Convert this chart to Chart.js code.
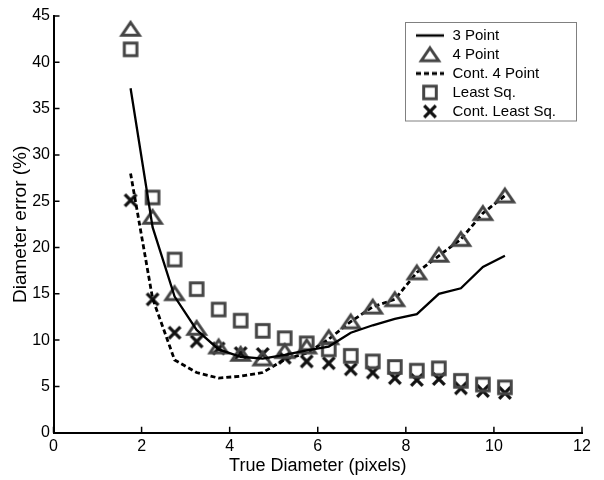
<!DOCTYPE html>
<html>
<head>
<meta charset="utf-8">
<script src="https://cdn.jsdelivr.net/npm/chart.js@4"></script>
<style>
html,body{margin:0;padding:0;background:#fff;}
#wrap{width:604px;height:480px;}
</style>
</head>
<body>
<div id="wrap"><canvas id="c" width="604" height="480"></canvas></div>
<script>
// ---- data ----
const diameters = [1.75, 2.25, 2.75, 3.25, 3.75, 4.25, 4.75, 5.25, 5.75, 6.25, 6.75, 7.25, 7.75, 8.25, 8.75, 9.25, 9.75, 10.25];
const threePoint = [37.2, 22.2, 14.7, 11.1, 9.0, 8.2, 8.0, 8.4, 8.9, 9.3, 10.8, 11.6, 12.3, 12.8, 15.0, 15.6, 17.9, 19.1];
const fourPoint = [43.6, 23.3, 15.05, 11.3, 9.3, 8.5, 8.0, 8.8, 9.3, 10.3, 12.0, 13.6, 14.4, 17.3, 19.2, 20.9, 23.7, 25.6];
const contFourPoint = [28.0, 14.5, 7.85, 6.5, 5.9, 6.1, 6.5, 7.9, 8.6, 10.1, 12.0, 13.6, 14.4, 17.3, 19.1, 20.9, 23.7, 25.6];
const leastSq = [41.4, 25.4, 18.7, 15.5, 13.3, 12.1, 11.0, 10.2, 9.65, 9.0, 8.3, 7.7, 7.1, 6.7, 6.95, 5.6, 5.2, 4.9];
const contLeastSq = [25.1, 14.4, 10.8, 9.85, 9.1, 8.6, 8.5, 8.1, 7.7, 7.5, 6.85, 6.5, 5.9, 5.7, 5.8, 4.8, 4.5, 4.3];
const seriesLabels = ['3 Point', '4 Point', 'Cont. 4 Point', 'Least Sq.', 'Cont. Least Sq.'];
const xTicks = [0, 2, 4, 6, 8, 10, 12];
const yTicks = [0, 5, 10, 15, 20, 25, 30, 35, 40, 45];

// ---- marker images ----
function mk(w, h, fn) {
  const c = document.createElement('canvas');
  c.width = w; c.height = h;
  const g = c.getContext('2d');
  fn(g, w / 2, h / 2);
  return c;
}
const GREY = '#454545';
const triImg = mk(26, 24, (g, cx, cy) => {
  g.strokeStyle = GREY; g.lineWidth = 3; g.lineJoin = 'miter';
  g.beginPath();
  g.moveTo(cx, cy - 6.5); g.lineTo(cx + 8.7, cy + 6.2); g.lineTo(cx - 8.7, cy + 6.2); g.closePath();
  g.stroke();
});
const sqImg = mk(20, 20, (g, cx, cy) => {
  g.strokeStyle = GREY; g.lineWidth = 3;
  g.strokeRect(cx - 6.3, cy - 6.3, 12.6, 12.6);
});
const xImg = mk(20, 20, (g, cx, cy) => {
  g.strokeStyle = '#111'; g.lineWidth = 3.3;
  g.beginPath();
  g.moveTo(cx - 5.8, cy - 5.8); g.lineTo(cx + 5.8, cy + 5.8);
  g.moveTo(cx + 5.8, cy - 5.8); g.lineTo(cx - 5.8, cy + 5.8);
  g.stroke();
});
const solidImg = mk(30, 6, (g, cx, cy) => {
  g.strokeStyle = '#000'; g.lineWidth = 2.5;
  g.beginPath(); g.moveTo(1, cy); g.lineTo(29, cy); g.stroke();
});
const dashImg = mk(30, 6, (g, cx, cy) => {
  g.strokeStyle = '#000'; g.lineWidth = 2.8; g.setLineDash([5, 3]);
  g.beginPath(); g.moveTo(1, cy); g.lineTo(29, cy); g.stroke();
});
const legendImgs = [solidImg, triImg, dashImg, sqImg, xImg];

function pts(arr) { return diameters.map((d, i) => ({x: d, y: arr[i]})); }

const tickMarks = {
  id: 'tickMarks',
  afterLayout(chart) {
    const lg = chart.legend;
    if (lg) {
      lg.left = 411; lg.top = 24;
      lg.right = 411 + 170; lg.bottom = 24 + 300;
    }
  },
  afterDraw(chart) {
    const ctx = chart.ctx, xs = chart.scales.x, ys = chart.scales.y;
    const a = chart.chartArea;
    ctx.save();
    ctx.strokeStyle = '#000'; ctx.lineWidth = 1.5;
    ctx.beginPath();
    xTicks.forEach(v => { const p = xs.getPixelForValue(v); ctx.moveTo(p, a.bottom); ctx.lineTo(p, a.bottom - 6); });
    yTicks.forEach(v => { const p = ys.getPixelForValue(v); ctx.moveTo(a.left, p); ctx.lineTo(a.left + 6, p); });
    ctx.stroke();
    // legend frame
    ctx.strokeStyle = '#808080'; ctx.lineWidth = 1;
    ctx.strokeRect(405.5, 22.5, 171, 98.5);
    ctx.restore();
  }
};

const FONT = "'Liberation Sans', Arial, Helvetica, sans-serif";

new Chart(document.getElementById('c'), {
  type: 'scatter',
  data: {
    datasets: [
      {label: seriesLabels[0], data: pts(threePoint), showLine: true, borderColor: '#000', borderWidth: 2.3, pointRadius: 0, tension: 0, fill: false},
      {label: seriesLabels[1], data: pts(fourPoint), showLine: false, pointStyle: triImg, pointRadius: 8},
      {label: seriesLabels[2], data: pts(contFourPoint), showLine: true, borderColor: '#000', borderWidth: 2.8, borderDash: [5, 3], pointRadius: 0, tension: 0, fill: false},
      {label: seriesLabels[3], data: pts(leastSq), showLine: false, pointStyle: sqImg, pointRadius: 8},
      {label: seriesLabels[4], data: pts(contLeastSq), showLine: false, pointStyle: xImg, pointRadius: 8}
    ]
  },
  options: {
    responsive: false,
    animation: false,
    devicePixelRatio: 1,
    layout: {padding: {top: 16, right: 22, left: 0, bottom: 0}},
    plugins: {
      tooltip: {enabled: false},
      legend: {
        position: 'chartArea',
        align: 'start',
        labels: {
          usePointStyle: true,
          pointStyleWidth: 30,
          padding: 4,
          color: '#000',
          font: {family: FONT, size: 15},
          generateLabels: (chart) => seriesLabels.map((t, i) => ({
            text: t, pointStyle: legendImgs[i], fillStyle: '#000', strokeStyle: '#000',
            lineWidth: 0, hidden: false, datasetIndex: i, fontColor: '#000'
          }))
        }
      }
    },
    scales: {
      x: {
        type: 'linear', min: 0, max: 12,
        afterFit: (s) => { s.height = 47.3; },
        afterBuildTicks: (s) => { s.ticks = xTicks.map(v => ({value: v})); },
        grid: {display: false, drawTicks: false},
        border: {display: true, color: '#000', width: 2},
        ticks: {color: '#000', font: {family: FONT, size: 16}, padding: 4, maxRotation: 0},
        title: {display: true, text: 'True Diameter (pixels)', color: '#000', font: {family: FONT, size: 18}, padding: {top: 0, bottom: 3}}
      },
      y: {
        type: 'linear', min: 0, max: 45,
        afterFit: (s) => { s.width = 53.5; },
        afterBuildTicks: (s) => { s.ticks = yTicks.map(v => ({value: v})); },
        grid: {display: false, drawTicks: false},
        border: {display: true, color: '#000', width: 2},
        ticks: {color: '#000', font: {family: FONT, size: 16}, padding: 3.5},
        title: {display: true, text: 'Diameter error (%)', color: '#000', font: {family: FONT, size: 19}, padding: {top: 9.2, bottom: 0}}
      }
    }
  },
  plugins: [tickMarks]
});
</script>
</body>
</html>
